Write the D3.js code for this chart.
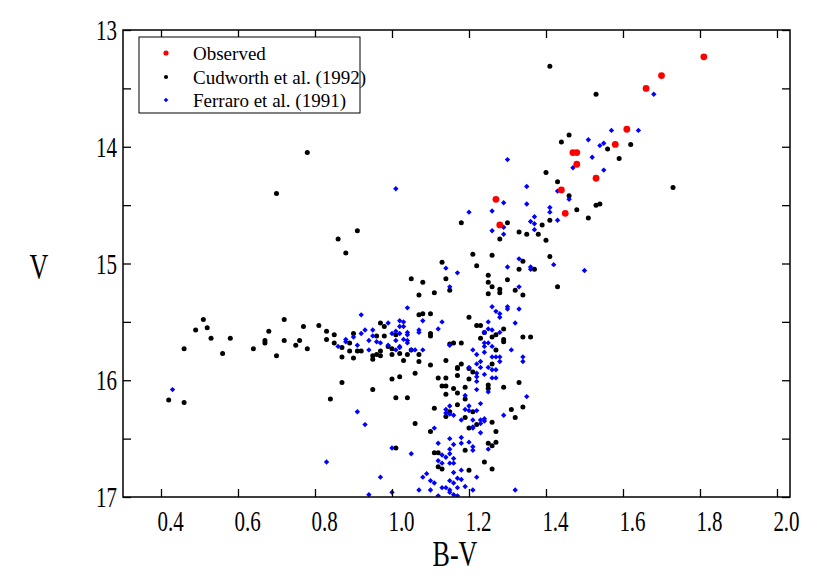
<!DOCTYPE html>
<html>
<head>
<meta charset="utf-8">
<script src="https://cdn.jsdelivr.net/npm/d3@7"></script>
<style>
  body { margin: 0; background: #fff; }
  svg { display: block; }
  text { font-family: "Liberation Serif", "Times New Roman", serif; fill: #000; }
</style>
</head>
<body>
<svg id="chart" width="830" height="581"></svg>
<script>
// [B-V, V] pairs
const observed = [
  [1.81,13.23],[1.70,13.39],[1.66,13.50],[1.61,13.85],[1.58,13.98],[1.47,14.05],[1.48,14.05],
  [1.48,14.15],[1.53,14.27],[1.44,14.37],[1.45,14.57],[1.27,14.45],[1.28,14.67]
];

const cudworth = [
  [1.41,13.31],[1.53,13.55],[1.46,13.90],[1.44,13.96],[1.56,14.02],[1.62,13.98],[1.59,14.10],[1.40,14.22],
  [1.43,14.30],[1.73,14.35],[1.46,14.42],[1.48,14.54],[1.53,14.50],[1.54,14.49],[1.51,14.61],[1.41,14.63],
  [1.39,14.67],[1.40,14.80],[1.41,14.94],[1.43,15.20],
  [0.78,14.05],[0.70,14.40],[0.91,14.72],[0.86,14.79],[0.88,14.91],[1.18,14.65],[1.30,14.65],[1.28,14.79],
  [1.33,14.73],[1.35,14.75],[1.38,14.75],[1.21,14.92],[1.26,14.93],[1.22,15.02],[1.13,14.99],[1.34,14.98],
  [1.33,15.05],[1.37,15.05],[1.25,15.10],[1.30,15.14],[1.14,15.13],[1.05,15.13],[1.08,15.16],[1.25,15.16],
  [1.26,15.20],[1.28,15.22],
  [0.51,15.48],[0.49,15.57],[0.52,15.55],[0.53,15.64],[0.46,15.73],[0.56,15.77],[0.58,15.64],[0.64,15.73],
  [0.67,15.66],[0.67,15.68],[0.68,15.58],[0.72,15.48],[0.72,15.66],[0.70,15.79],[0.77,15.54],[0.76,15.66],
  [0.75,15.70],[0.78,15.73],[0.81,15.53],[0.83,15.58],[0.83,15.65],[0.42,16.17],[0.46,16.19],
  [1.07,15.27],[1.11,15.25],[0.85,15.61],[0.85,15.68],[0.87,15.72],[0.87,15.80],[0.89,15.68],[0.89,15.75],
  [0.90,15.60],[0.90,15.81],[0.91,15.75],[0.92,15.75],[0.95,15.79],[0.95,15.82],[0.96,15.62],[0.96,15.78],
  [0.97,15.51],[0.98,15.54],[0.97,15.75],[0.97,15.79],[0.98,15.62],[0.99,15.71],[1.00,15.73],[1.00,15.78],
  [1.01,15.61],[1.02,15.77],[1.03,15.83],[1.04,15.78],[1.05,15.74],[1.07,15.44],[1.08,15.43],[1.10,15.43],
  [1.10,15.62],[1.10,15.60],[1.07,15.78],[1.07,15.84],[1.10,15.87],[1.16,15.68],[1.14,15.83],[1.17,15.89],
  [1.14,15.98],[1.12,15.98],[1.06,15.94],[1.02,15.97],[1.00,15.99],[0.87,16.02],[0.95,16.08],[1.01,16.15],
  [1.04,16.15],[0.84,16.16],[1.14,16.05],[1.16,16.07],[1.11,16.24],[1.14,16.31],[1.17,16.21],
  [1.15,15.23],[1.25,15.26],[1.28,15.25],[1.32,15.23],[1.34,15.27],[1.20,15.46],[1.22,15.53],[1.23,15.53],
  [1.29,15.56],[1.24,15.59],[1.26,15.63],[1.27,15.61],[1.23,15.64],[1.29,15.65],[1.29,15.67],[1.34,15.63],
  [1.36,15.63],[1.18,15.68],[1.15,15.69],[1.27,15.74],[1.18,15.86],[1.17,15.90],[1.20,15.90],[1.21,15.93],
  [1.26,15.86],[1.17,15.96],[1.20,15.99],[1.13,16.05],[1.17,16.11],[1.19,16.06],[1.19,16.16],[1.25,16.04],
  [1.25,16.07],[1.29,16.06],[1.33,16.02],[1.14,16.12],[1.15,16.27],[1.21,16.27],[1.26,16.36],[1.31,16.25],
  [1.34,16.23],[1.32,16.32],[1.06,16.37],[1.19,16.32],[1.20,16.41],[1.22,16.38],
  [1.10,16.44],[1.27,16.44],[1.27,16.53],[1.26,16.56],[1.25,16.54],[1.11,16.62],[1.12,16.62],[1.19,16.60],
  [1.24,16.70],[1.26,16.76],[1.12,16.74],[1.13,16.76],[1.20,16.77],[1.01,16.58]
];

const ferraro = [
  [1.68,13.55],[1.57,13.86],[1.64,13.86],[1.51,13.94],[1.54,13.99],[1.55,13.97],[1.52,14.09],[1.47,14.18],
  [1.55,14.20],[1.35,14.34],[1.43,14.38],[1.46,14.45],[1.41,14.52],[1.41,14.56],[1.43,14.63],[1.42,15.01],
  [1.50,15.06],
  [1.30,14.11],[1.01,14.36],[1.29,14.48],[1.35,14.49],[1.26,14.55],[1.20,14.56],[1.37,14.60],[1.36,14.64],
  [1.37,14.66],[1.26,14.72],[1.29,14.69],[1.37,14.71],[1.29,14.75],[1.33,14.96],[1.36,15.03],[1.36,15.05],
  [1.30,15.03],[1.14,15.04],[1.17,15.08],[1.15,15.20],[1.33,15.20],
  [1.04,15.38],[0.92,15.44],[0.99,15.51],[1.02,15.49],[1.03,15.50],[1.02,15.54],[1.03,15.54],[1.01,15.58],
  [1.08,15.49],[1.07,15.59],[0.93,15.57],[0.95,15.57],[0.92,15.60],[0.90,15.63],[0.88,15.65],[0.88,15.67],
  [0.95,15.62],[0.94,15.66],[0.96,15.67],[0.97,15.68],[1.00,15.60],[1.02,15.60],[1.04,15.59],[1.04,15.61],
  [1.01,15.66],[1.03,15.65],[1.04,15.66],[1.02,15.71],[1.04,15.68],[0.99,15.70],[0.91,15.70],[0.86,15.71],
  [0.94,15.74],[1.01,15.74],[1.02,15.72],[1.05,15.74],[1.06,15.74],[1.08,15.74],[1.13,15.50],[1.12,15.56],
  [0.91,16.27],
  [1.07,15.57],[1.15,15.70],[1.26,15.37],[1.27,15.41],[1.28,15.43],[1.28,15.46],[1.30,15.37],[1.30,15.39],
  [1.33,15.39],[1.25,15.50],[1.32,15.51],[1.25,15.56],[1.26,15.57],[1.24,15.59],[1.28,15.59],[1.24,15.68],
  [1.25,15.68],[1.24,15.71],[1.26,15.71],[1.21,15.74],[1.24,15.76],[1.22,15.78],[1.31,15.74],[1.26,15.80],
  [1.27,15.80],[1.28,15.80],[1.28,15.84],[1.34,15.80],[1.34,15.84],[1.23,15.84],[1.22,15.86],[1.23,15.89],
  [1.25,15.89],[1.26,15.91],[1.27,15.91],[1.20,15.89],[1.22,15.94],[1.22,15.97],[1.22,16.01],[1.24,15.95],
  [1.26,15.98],[1.27,15.98],[1.22,16.08],[1.25,16.10],[1.19,16.13],[1.35,16.14],[1.20,16.22],[1.19,16.25],
  [1.20,16.26],[1.22,16.26],[1.23,16.20],[1.18,16.34],[1.21,16.34],[1.23,16.34],[1.24,16.35],[1.29,16.30],
  [1.11,16.41],[1.21,16.40],
  [1.14,16.25],[1.14,16.28],[1.15,16.29],[1.16,16.30],[1.15,16.22],[1.23,16.37],[1.24,16.33],[1.21,16.41],
  [1.23,16.45],[1.05,16.63],[1.12,16.54],[1.15,16.50],[1.15,16.59],[1.15,16.63],[1.16,16.55],[1.18,16.49],
  [1.18,16.54],[1.20,16.53],[1.21,16.57],[1.21,16.60],[1.25,16.59],[1.13,16.64],[1.14,16.66],[1.16,16.67],
  [1.12,16.69],[1.13,16.71],[1.15,16.71],[1.16,16.71],[1.18,16.77],[1.16,16.79],[1.09,16.80],[1.08,16.83],
  [1.10,16.86],[1.11,16.88],[1.15,16.86],[1.16,16.88],[1.17,16.84],[1.18,16.85],[1.22,16.83],[1.13,16.92],
  [1.14,16.92],[1.15,16.94],[1.17,16.92],[1.07,16.94],[1.10,16.94],[1.15,16.96],[1.16,16.98],[1.17,16.99],
  [1.12,16.99],[1.19,16.91],[1.21,16.94],[1.32,16.94],
  [0.93,16.38],[1.00,16.58],[0.83,16.70],[0.97,16.83],[0.94,16.98],[1.00,16.96],[0.43,16.08]
];

const xTicks = [0.4, 0.6, 0.8, 1.0, 1.2, 1.4, 1.6, 1.8, 2.0];
const yTicks = [13, 13.5, 14, 14.5, 15, 15.5, 16, 16.5, 17];
const yLabelled = [13, 14, 15, 16, 17];
const legendNames = ["Observed", "Cudworth et al. (1992)", "Ferraro et al. (1991)"];

const svg = d3.select("#chart");
const plotL = 123, plotR = 790, plotT = 30, plotB = 497;
const stretch = 1.4;

const x = d3.scaleLinear().domain([0.3013, 2.0338]).range([plotL, plotR]);
const y = d3.scaleLinear().domain([13, 17]).range([plotT, plotB]);

svg.append("defs").append("clipPath").attr("id", "plotclip")
  .append("rect").attr("x", plotL).attr("y", plotT)
  .attr("width", plotR - plotL).attr("height", plotB - plotT);

let diamond = function (s) {
  return "M0," + (-s) + "L" + s + ",0L0," + s + "L" + (-s) + ",0Z";
};

let plot = svg.append("g").attr("clip-path", "url(#plotclip)");

plot.selectAll(".cud").data(cudworth).enter()
  .append("circle").attr("class", "cud")
  .attr("cx", d => x(d[0])).attr("cy", d => y(d[1]))
  .attr("r", 2.5).attr("fill", "#000");

plot.selectAll(".fer").data(ferraro).enter()
  .append("path").attr("class", "fer")
  .attr("d", diamond(2.7))
  .attr("transform", d => "translate(" + x(d[0]) + "," + y(d[1]) + ")")
  .attr("fill", "#0000ff");

plot.selectAll(".obs").data(observed).enter()
  .append("circle").attr("class", "obs")
  .attr("cx", d => x(d[0])).attr("cy", d => y(d[1]))
  .attr("r", 3.4).attr("fill", "#ff0000");

// axes, ticks pointing inwards
let xAxis = svg.append("g").attr("transform", "translate(0," + plotB + ")")
  .call(d3.axisBottom(x).tickValues(xTicks).tickSizeInner(-8).tickSizeOuter(0)
    .tickFormat(d3.format(".1f")));
// the labels in the original sit a little right of their ticks
xAxis.selectAll("text")
  .attr("transform", "scale(1," + stretch + ")")
  .attr("x", 9).attr("y", 24.5).attr("dy", 0)
  .style("font-size", "21px");

svg.append("g").attr("transform", "translate(0," + plotT + ")")
  .call(d3.axisTop(x).tickValues(xTicks).tickSizeInner(-8).tickSizeOuter(0).tickFormat(""));

let yAxis = svg.append("g").attr("transform", "translate(" + plotL + ",0)")
  .call(d3.axisLeft(y).tickValues(yTicks).tickSizeInner(-8).tickSizeOuter(0)
    .tickFormat(d => yLabelled.includes(d) ? d3.format("d")(d) : ""));
yAxis.selectAll("text")
  .attr("transform", "scale(1," + stretch + ")")
  .attr("x", -6).attr("y", 0).attr("dy", "0.33em")
  .style("font-size", "21px");

svg.append("g").attr("transform", "translate(" + plotR + ",0)")
  .call(d3.axisRight(y).tickValues(yTicks).tickSizeInner(-8).tickSizeOuter(0).tickFormat(""));

svg.selectAll(".domain").remove();
svg.selectAll(".tick line").attr("stroke", "#000").attr("stroke-width", 1.3);

svg.append("rect")
  .attr("x", plotL).attr("y", plotT)
  .attr("width", plotR - plotL).attr("height", plotB - plotT)
  .attr("fill", "none").attr("stroke", "#000").attr("stroke-width", 1.5);

// axis titles
svg.append("g").attr("transform", "translate(39,266)")
  .append("text").attr("transform", "scale(1," + stretch + ")")
  .attr("text-anchor", "middle").attr("dy", "0.35em")
  .style("font-size", "26px").text("V");

svg.append("g").attr("transform", "translate(455,566)")
  .append("text").attr("transform", "scale(1," + stretch + ")")
  .attr("text-anchor", "middle")
  .style("font-size", "26px").text("B-V");

// legend
let legend = svg.append("g");
legend.append("rect")
  .attr("x", 139).attr("y", 37).attr("width", 221).attr("height", 76)
  .attr("fill", "#fff").attr("stroke", "#000").attr("stroke-width", 1);

let rowsY = [53, 77, 100];
legend.append("circle").attr("cx", 166).attr("cy", rowsY[0]).attr("r", 2.6).attr("fill", "#ff0000");
legend.append("circle").attr("cx", 166).attr("cy", rowsY[1]).attr("r", 2.1).attr("fill", "#000");
legend.append("path").attr("d", diamond(2.3))
  .attr("transform", "translate(166," + rowsY[2] + ")").attr("fill", "#0000ff");

legend.selectAll(".lab").data(legendNames).enter()
  .append("text").attr("class", "lab")
  .attr("x", 193).attr("y", (d, i) => rowsY[i]).attr("dy", "0.35em")
  .style("font-size", "19px").text(d => d);
</script>
</body>
</html>
